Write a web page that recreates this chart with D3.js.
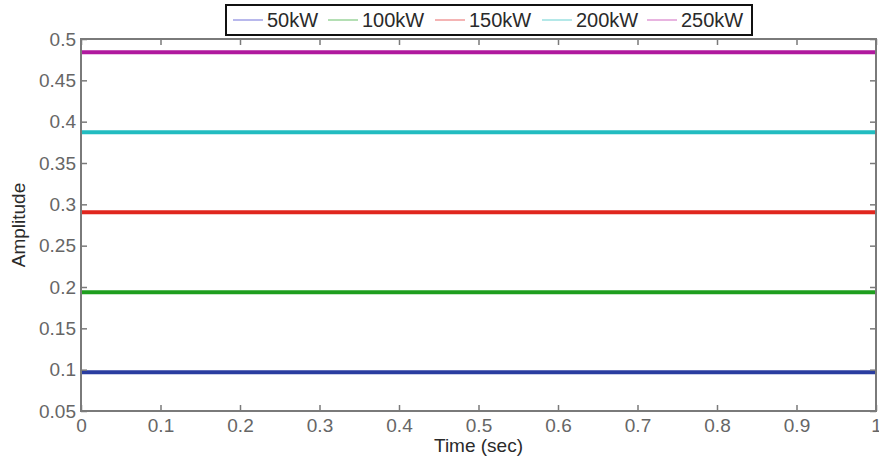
<!DOCTYPE html>
<html>
<head>
<meta charset="utf-8">
<script src="https://cdn.jsdelivr.net/npm/d3@7/dist/d3.min.js"></script>
<style>
  html, body { margin: 0; padding: 0; background: #fff; }
  svg { display: block; font-family: "Liberation Sans", Arial, Helvetica, sans-serif; }
</style>
</head>
<body>
<svg id="chart" width="879" height="461"></svg>
<script>
// Series labels and their constant amplitude levels
const seriesNames = ["50kW", "100kW", "150kW", "200kW", "250kW"];
const seriesLevels = [0.0968, 0.1936, 0.2904, 0.3872, 0.484];
const seriesColors = ["#2a3da0", "#1e9e1e", "#e0261e", "#22bcc0", "#b0199e"];
const legendColors = ["#b8b8ec", "#b4dfb4", "#f4b4b4", "#b4e8e8", "#e8b4e0"];

// Sampling instants (sec)
const timePoints = [0, 1];

// Axis ticks
const xTicks = [0, 0.1, 0.2, 0.3, 0.4, 0.5, 0.6, 0.7, 0.8, 0.9, 1];
const yTicks = [0.05, 0.1, 0.15, 0.2, 0.25, 0.3, 0.35, 0.4, 0.45, 0.5];

const svg = d3.select("#chart");
const margin = { left: 81, right: 3, top: 39, bottom: 50 };
const W = 879, H = 461;
const x = d3.scaleLinear().domain([0, 1]).range([margin.left, W - margin.right]);
const y = d3.scaleLinear().domain([0.05, 0.5]).range([H - margin.bottom, margin.top]);

const axisColor = "#7a7a7a";
const textColor = "#666";
const titleColor = "#2a2a2a";
const fontSize = 19;

// Data lines
const line = d3.line().x(d => x(d.t)).y(d => y(d.v));
seriesNames.forEach((name, i) => {
  const pts = timePoints.map(t => ({ t, v: seriesLevels[i] }));
  svg.append("path")
    .attr("d", line(pts))
    .attr("fill", "none")
    .attr("stroke", seriesColors[i])
    .attr("stroke-width", 4);
});

// Axes (ticks drawn inward on all four sides)
function styleAxis(g) {
  g.select(".domain").remove();
  g.selectAll(".tick line").attr("stroke", axisColor).attr("stroke-width", 1.5);
  g.selectAll(".tick text").attr("fill", textColor).attr("font-size", fontSize)
    .attr("font-family", "Liberation Sans, Arial, sans-serif");
}

svg.append("g")
  .attr("transform", `translate(0,${y(0.05)})`)
  .call(d3.axisBottom(x).tickValues(xTicks).tickFormat(d3.format("~g")).tickSizeInner(-6).tickSizeOuter(0).tickPadding(8))
  .call(styleAxis);

svg.append("g")
  .attr("transform", `translate(0,${y(0.5)})`)
  .call(d3.axisTop(x).tickValues(xTicks).tickFormat("").tickSizeInner(-6).tickSizeOuter(0))
  .call(styleAxis);

svg.append("g")
  .attr("transform", `translate(${x(0)},0)`)
  .call(d3.axisLeft(y).tickValues(yTicks).tickFormat(d3.format("~g")).tickSizeInner(-6).tickSizeOuter(0).tickPadding(5))
  .call(styleAxis);

svg.append("g")
  .attr("transform", `translate(${x(1)},0)`)
  .call(d3.axisRight(y).tickValues(yTicks).tickFormat("").tickSizeInner(-6).tickSizeOuter(0))
  .call(styleAxis);

// Plot frame
svg.append("rect")
  .attr("x", x(0)).attr("y", y(0.5))
  .attr("width", x(1) - x(0)).attr("height", y(0.05) - y(0.5))
  .attr("fill", "none").attr("stroke", axisColor).attr("stroke-width", 2);

// Axis titles
svg.append("text")
  .attr("x", (x(0) + x(1)) / 2).attr("y", 452)
  .attr("text-anchor", "middle").attr("fill", titleColor).attr("font-size", fontSize)
  .text("Time (sec)");

svg.append("text")
  .attr("transform", `translate(25,${(y(0.05) + y(0.5)) / 2}) rotate(-90)`)
  .attr("text-anchor", "middle").attr("fill", titleColor).attr("font-size", fontSize)
  .text("Amplitude");

// Legend
const legend = svg.append("g");
legend.append("rect")
  .attr("x", 226).attr("y", 5).attr("width", 526).attr("height", 30)
  .attr("fill", "#fff").attr("stroke", "#111").attr("stroke-width", 2);
const itemX = [233, 328, 435, 542, 647];
seriesNames.forEach((name, i) => {
  legend.append("line")
    .attr("x1", itemX[i]).attr("x2", itemX[i] + 30)
    .attr("y1", 20).attr("y2", 20)
    .attr("stroke", legendColors[i]).attr("stroke-width", 2);
  legend.append("text")
    .attr("x", itemX[i] + 34).attr("y", 27)
    .attr("fill", titleColor).attr("font-size", 20)
    .text(name);
});
</script>
</body>
</html>
